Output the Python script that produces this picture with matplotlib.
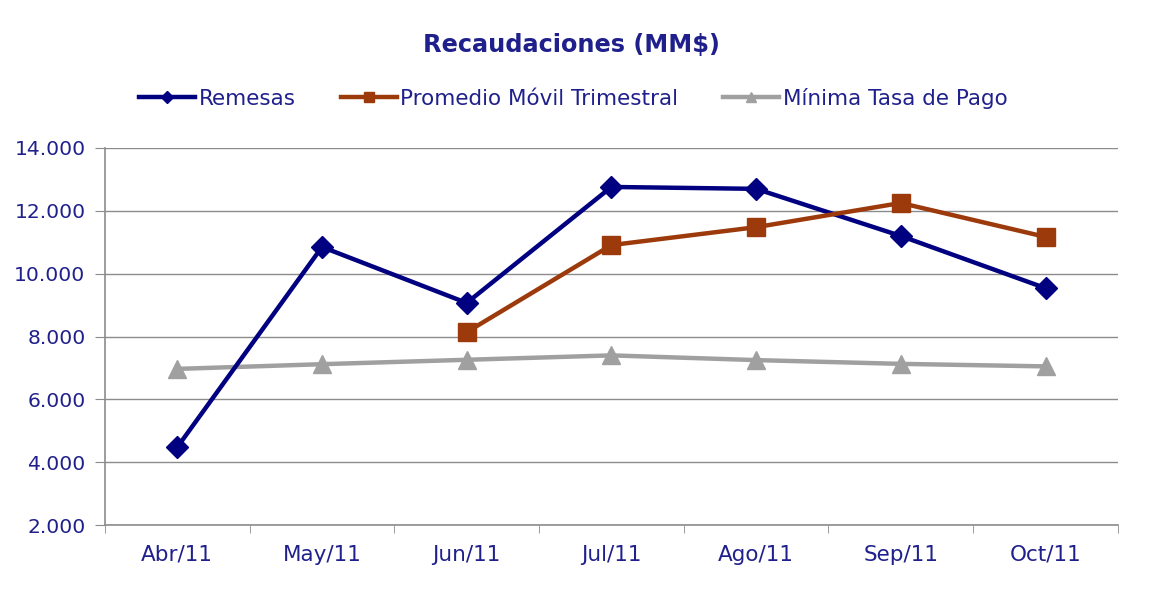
import matplotlib
matplotlib.use('Agg')
from matplotlib import pyplot as plt
from matplotlib.ticker import FixedLocator, FuncFormatter
import numpy as np

months = ['Abr/11', 'May/11', 'Jun/11', 'Jul/11', 'Ago/11', 'Sep/11', 'Oct/11']
remesas = [4480, 10850, 9070, 12760, 12700, 11200, 9540]
promedio = [np.nan, np.nan, 8140, 10910, 11480, 12250, 11170]
minima = [6970, 7120, 7260, 7400, 7250, 7130, 7050]

TXT = '#20208c'


def thousands(v, pos):
    return f'{int(v):,}'.replace(',', '.')


def main():
    fig = plt.figure(figsize=(11.56, 5.96), dpi=100)
    ax = fig.add_axes([0.0908, 0.119, 0.8762, 0.6327])
    x = np.arange(len(months))

    ax.plot(x, remesas, color='#000080', lw=3.2, marker='D', ms=11,
            label='Remesas', zorder=3)
    ax.plot(x, promedio, color='#9c3a0c', lw=3.2, marker='s', ms=13,
            label='Promedio Móvil Trimestral', zorder=3)
    ax.plot(x, minima, color='#a0a0a0', lw=3.2, marker='^', ms=13,
            label='Mínima Tasa de Pago', zorder=2)

    ax.set_xlim(-0.5, len(months) - 0.5)
    ax.set_ylim(2000, 14000)
    ax.set_yticks(range(2000, 14001, 2000))
    ax.yaxis.set_major_formatter(FuncFormatter(thousands))
    ax.yaxis.grid(True, color='#8c8c8c', lw=1)
    ax.set_axisbelow(True)

    ax.set_xticks(x)
    ax.set_xticklabels(months, fontsize=15.5, color=TXT)
    ax.tick_params(axis='x', length=0, pad=14)
    ax.xaxis.set_minor_locator(FixedLocator(np.arange(-0.5, len(months), 1.0)))
    ax.tick_params(axis='x', which='minor', length=6, color='#8c8c8c')
    ax.tick_params(axis='y', length=7, color='#8c8c8c', labelsize=14.6,
                   labelcolor=TXT, pad=7)

    for s in ['top', 'right']:
        ax.spines[s].set_visible(False)
    for s in ['left', 'bottom']:
        ax.spines[s].set_color('#8c8c8c')
        ax.spines[s].set_linewidth(1.2)

    fig.text(0.494, 0.925, 'Recaudaciones (MM$)', ha='center', va='center',
             fontsize=17.3, fontweight='bold', color=TXT)
    leg = fig.legend(loc='center', bbox_to_anchor=(0.496, 0.835), ncol=3,
                     frameon=False, handlelength=2.6, handletextpad=0.15,
                     columnspacing=2.1, markerscale=0.6,
                     prop={'size': 15.5})
    for t in leg.get_texts():
        t.set_color(TXT)

    fig.savefig('out.png', dpi=100)


if __name__ == '__main__':
    main()
